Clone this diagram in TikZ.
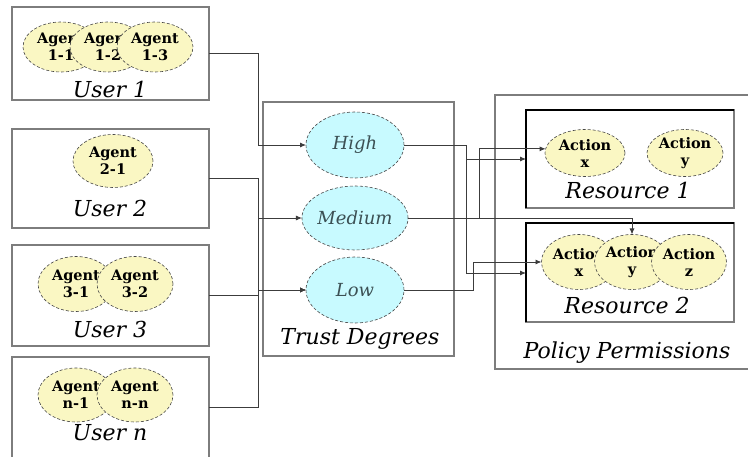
\documentclass[tikz,border=0pt]{standalone}
\usepackage{fontspec}
\setmainfont{DejaVu Serif}
\usetikzlibrary{arrows.meta,shapes.geometric}

\definecolor{boxgray}{RGB}{125,125,125}
\definecolor{linegray}{RGB}{60,60,60}
\definecolor{agentfill}{RGB}{250,247,195}
\definecolor{trustfill}{RGB}{200,250,255}
\definecolor{trusttext}{RGB}{60,80,84}
\definecolor{edgegray}{RGB}{70,70,70}

\tikzset{
  frame/.style={draw=boxgray, line width=1.1pt, inner sep=0pt, outer sep=0pt},
  resbox/.style={draw=boxgray, line width=1.1pt, inner sep=0pt, outer sep=0pt},
  agent/.style={ellipse, draw=edgegray, densely dashed, line width=0.6pt,
    fill=agentfill, inner sep=0pt, outer sep=0pt, align=center,
    font=\fontsize{14.5}{17}\selectfont\bfseries},
  trust/.style={ellipse, draw=edgegray, densely dashed, line width=0.6pt,
    fill=trustfill, inner sep=0pt, outer sep=0pt, text=trusttext,
    font=\fontsize{18}{20}\selectfont\itshape, minimum width=98pt},
  biglabel/.style={font=\fontsize{22}{24}\selectfont\itshape, inner sep=0pt},
  conn/.style={draw=linegray, line width=0.9pt},
  tip/.style={-{Latex[length=6pt,width=5pt]}}
}

\begin{document}
\begin{tikzpicture}[x=1pt,y=-1pt]
\useasboundingbox (0,0) rectangle (748,457);
\fill[white] (0,0) rectangle (748,457);
\clip (0,0) rectangle (748,457);

% ---- users ----
\node[frame, minimum width=197pt, minimum height=93pt] (u1) at (110.5,53.5) {};
\node[frame, minimum width=197pt, minimum height=99pt] (u2) at (110.5,178.5) {};
\node[frame, minimum width=197pt, minimum height=101pt] (u3) at (110.5,295.5) {};
\node[frame, minimum width=197pt, minimum height=101pt] (un) at (110.5,407.5) {};

\node[agent, minimum width=76pt, minimum height=50pt] (a11) at (61,47) {Agent\\1-1};
\node[agent, minimum width=76pt, minimum height=50pt] (a12) at (108,47) {Agent\\1-2};
\node[agent, minimum width=76pt, minimum height=50pt] (a13) at (155,47) {Agent\\1-3};
\node[biglabel] (l1) at (110,89) {User 1};

\node[agent, minimum width=80pt, minimum height=53pt] (a21) at (113,161) {Agent\\2-1};
\node[biglabel] (l2) at (110,208) {User 2};

\node[agent, minimum width=76pt, minimum height=55pt] (a31) at (76,284) {Agent\\3-1};
\node[agent, minimum width=76pt, minimum height=55pt] (a32) at (135,284) {Agent\\3-2};
\node[biglabel] (l3) at (110,329) {User 3};

\node[agent, minimum width=76pt, minimum height=54pt] (an1) at (76,395) {Agent\\n-1};
\node[agent, minimum width=76pt, minimum height=54pt] (an2) at (135,395) {Agent\\n-n};
\node[biglabel] (ln) at (110,433) {User n};

% ---- trust degrees ----
\node[frame, minimum width=191pt, minimum height=254pt] (tb) at (358.5,229) {};
\node[trust, minimum height=66pt] (high) at (355,145) {High};
\node[trust, minimum height=64pt] (med)  at (355,218) {Medium};
\node[trust, minimum height=66pt] (low)  at (355,290) {Low};
\node[biglabel] (lt) at (360,339) {Trust Degrees};

% ---- policy permissions ----
\node[frame, minimum width=270pt, minimum height=274pt] (pb) at (630,232) {};
\node[resbox, minimum width=208pt, minimum height=98pt] (r1) at (630,159) {};
\node[resbox, minimum width=208pt, minimum height=99pt] (r2) at (630,272.5) {};
\draw[black, line width=1.4pt] (r1.south west) -- (r1.north west) -- (r1.north east);
\draw[black, line width=1.4pt] (r2.south west) -- (r2.north west) -- (r2.north east);

\node[agent, minimum width=80pt, minimum height=47pt] (ax1) at (585,153) {Action\\x};
\node[agent, minimum width=76pt, minimum height=47pt] (ay1) at (685,153) {Action\\y};
\node[biglabel] (lr1) at (628,190) {Resource 1};

\node[agent, minimum width=75pt, minimum height=55pt] (ax2) at (579,262) {Action\\x};
\node[agent, minimum width=75pt, minimum height=55pt] (ay2) at (632,262) {Action\\y};
\node[agent, minimum width=75pt, minimum height=55pt] (az2) at (689,262) {Action\\z};
\node[biglabel] (lr2) at (627,305) {Resource 2};
\node[biglabel] (lp) at (627,353) {Policy Permissions};

\coordinate (r1in) at (526,159);
\coordinate (r2in) at (526,273);

% ---- users to trust degrees ----
\draw[conn,tip] (u1.east) -- ++(49,0) |- (high.west);
\draw[conn,tip] (u2.east) -- ++(49,0) |- (med.west);
\draw[conn,tip] (u2.east) -- ++(49,0) |- (low.west);
\draw[conn,tip] (u3.east) -- ++(49,0) |- (low.west);
\draw[conn,tip] (un.east) -- ++(49,0) |- (low.west);

% ---- trust degrees to resources ----
\draw[conn,tip] (high.east) -- ++(62,0) |- (r1in);
\draw[conn,tip] (high.east) -- ++(62,0) |- (r2in);
\draw[conn,tip] (med.east) -- ++(71,0) |- (ax1.174);
\draw[conn,tip] (med.east) -| (ay2.north);
\draw[conn,tip] (low.east) -- ++(69,0) |- (ax2.west);
\end{tikzpicture}
\end{document}
